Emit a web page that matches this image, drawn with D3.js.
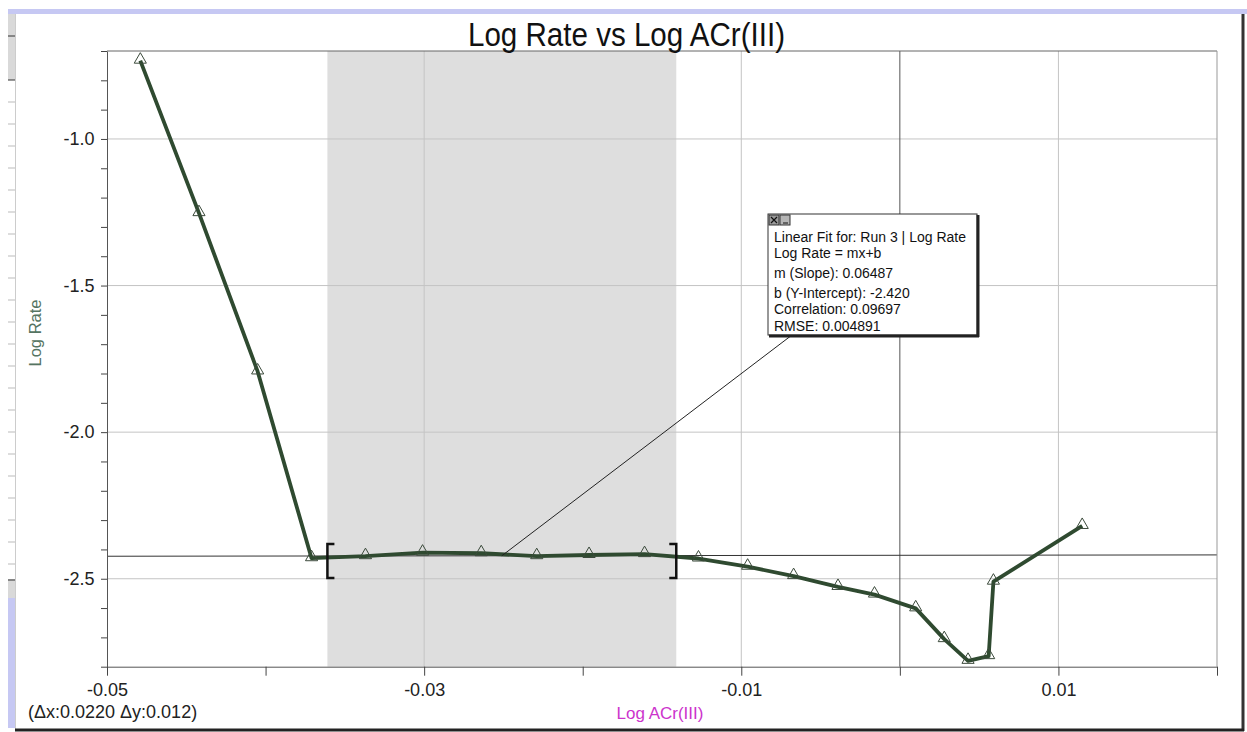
<!DOCTYPE html>
<html>
<head>
<meta charset="utf-8">
<script src="https://cdn.jsdelivr.net/npm/d3@7"></script>
<style>
  body { margin: 0; background: #fff; }
  svg text { font-family: "Liberation Sans", Arial, sans-serif; }
</style>
</head>
<body>
<div id="chart"></div>
<script>
// Run 3 data
var logACr = [-0.0479, -0.0442, -0.0405, -0.0371, -0.0337, -0.0301, -0.0264, -0.0229,
  -0.0196, -0.0161, -0.0127, -0.0096, -0.0067, -0.0039, -0.0016, 0.0010,
  0.0028, 0.0043, 0.0056, 0.0059, 0.0115];
var logRate = [-0.733, -1.253, -1.793, -2.430, -2.423, -2.411, -2.413, -2.423,
  -2.419, -2.416, -2.431, -2.459, -2.491, -2.528, -2.554, -2.601,
  -2.706, -2.780, -2.764, -2.510, -2.320];

// Axis settings
var xDomain = [-0.05, 0.02];
var yDomain = [-2.8, -0.7];
var xLabelTicks = [-0.05, -0.03, -0.01, 0.01];
var yLabelTicks = [-1.0, -1.5, -2.0, -2.5];

// Linear fit and selected range
var fitSlope = 0.06487;
var fitIntercept = -2.420;
var selectRange = [-0.0361, -0.0141];
var fitText = ["Linear Fit for: Run 3 | Log Rate", "Log Rate = mx+b", "m (Slope): 0.06487",
  "b (Y-Intercept): -2.420", "Correlation: 0.09697", "RMSE: 0.004891"];
var deltaText = "(\u0394x:0.0220 \u0394y:0.012)";

var width = 1247;
var height = 732;
var margin = { top: 51, right: 30, bottom: 65.3, left: 107 };

// Plain hyphen for negative numbers, like the original
var locale = d3.formatLocale({ decimal: ".", thousands: ",", grouping: [3], currency: ["", ""], minus: "-" });

var svg = d3.select("#chart")
  .append("svg")
  .attr("width", width)
  .attr("height", height);

// Window chrome around the graph
svg.append("rect").attr("x", 8).attr("y", 9).attr("width", width - 8).attr("height", 5).attr("fill", "#c6c8f3");
svg.append("rect").attr("x", 8).attr("y", 14).attr("width", 7).attr("height", 66).attr("fill", "#d9d9d9");
svg.append("rect").attr("x", 8).attr("y", 579).attr("width", 7).attr("height", 19).attr("fill", "#d9d9d9");
svg.append("rect").attr("x", 8).attr("y", 598).attr("width", 7).attr("height", 130).attr("fill", "#c6c8f3");
svg.selectAll(".sidetick")
  .data(d3.range(102, 570, 22))
  .enter()
  .append("line")
  .attr("x1", 8).attr("x2", 15)
  .attr("y1", function(d) { return d; }).attr("y2", function(d) { return d; })
  .attr("stroke", "#bbb");
[36, 80, 580].forEach(function(yy) {
  svg.append("line").attr("x1", 8).attr("x2", 15).attr("y1", yy).attr("y2", yy).attr("stroke", "#333");
});
svg.append("line").attr("x1", 15.5).attr("x2", 15.5).attr("y1", 14).attr("y2", 729).attr("stroke", "#ccc");
svg.append("line").attr("x1", 1243).attr("x2", 1243).attr("y1", 14).attr("y2", 731).attr("stroke", "#333").attr("stroke-width", 3);
svg.append("line").attr("x1", 15).attr("x2", 1244).attr("y1", 730).attr("y2", 730).attr("stroke", "#222").attr("stroke-width", 3);

var plotW = width - margin.left - margin.right;
var plotH = height - margin.top - margin.bottom;

var x = d3.scaleLinear().domain(xDomain).range([margin.left, margin.left + plotW]);
var y = d3.scaleLinear().domain(yDomain).range([margin.top + plotH, margin.top]);

// Shaded selection
svg.append("rect")
  .attr("x", x(selectRange[0]))
  .attr("y", margin.top)
  .attr("width", x(selectRange[1]) - x(selectRange[0]))
  .attr("height", plotH)
  .attr("fill", "#dedede");

// Grid lines
svg.selectAll(".vgrid")
  .data(xLabelTicks.slice(1))
  .enter()
  .append("line")
  .attr("x1", function(d) { return x(d); }).attr("x2", function(d) { return x(d); })
  .attr("y1", margin.top).attr("y2", margin.top + plotH)
  .attr("stroke", "#c4c4c4");
svg.selectAll(".hgrid")
  .data(yLabelTicks)
  .enter()
  .append("line")
  .attr("x1", margin.left).attr("x2", margin.left + plotW)
  .attr("y1", function(d) { return y(d); }).attr("y2", function(d) { return y(d); })
  .attr("stroke", "#c4c4c4");

// Zero line
svg.append("line")
  .attr("x1", x(0)).attr("x2", x(0))
  .attr("y1", margin.top).attr("y2", margin.top + plotH)
  .attr("stroke", "#555");

// Fit line across the graph
svg.append("line")
  .attr("x1", x(xDomain[0])).attr("x2", x(xDomain[1]))
  .attr("y1", y(fitSlope * xDomain[0] + fitIntercept))
  .attr("y2", y(fitSlope * xDomain[1] + fitIntercept))
  .attr("stroke", "#333");

// Plot frame
svg.append("line").attr("x1", margin.left).attr("x2", margin.left + plotW)
  .attr("y1", margin.top).attr("y2", margin.top).attr("stroke", "#666");
svg.append("line").attr("x1", margin.left + plotW).attr("x2", margin.left + plotW)
  .attr("y1", margin.top).attr("y2", margin.top + plotH).attr("stroke", "#999");

// Axes
var xTickVals = d3.range(-5, 3).map(function(k) { return k / 100; });
var xAxis = d3.axisBottom(x)
  .tickValues(xTickVals)
  .tickSizeInner(9)
  .tickSizeOuter(0)
  .tickPadding(7.5)
  .tickFormat(function(d) {
    return Math.abs(Math.round(d * 100)) % 2 === 1 ? locale.format(".2f")(d) : "";
  });
var yTickVals = d3.range(-28, -6).map(function(k) { return k / 10; });
var yAxis = d3.axisLeft(y)
  .tickValues(yTickVals)
  .tickSizeInner(6)
  .tickSizeOuter(0)
  .tickPadding(6.5)
  .tickFormat(function(d) {
    return Math.round(d * 10) % 5 === 0 ? locale.format(".1f")(d) : "";
  });

var gx = svg.append("g")
  .attr("transform", "translate(0," + (margin.top + plotH) + ")")
  .call(xAxis);
var gy = svg.append("g")
  .attr("transform", "translate(" + margin.left + ",0)")
  .call(yAxis);
[gx, gy].forEach(function(g) {
  g.selectAll("path").attr("stroke", "#555");
  g.selectAll("line").attr("stroke", "#444");
  g.selectAll("text")
    .attr("fill", "#222")
    .style("font-size", "18px")
    .style("font-family", "'Liberation Sans', Arial, sans-serif");
});

// Data line and triangle markers
var line = d3.line()
  .x(function(d, i) { return x(logACr[i]); })
  .y(function(d) { return y(d); });
svg.append("path")
  .datum(logRate)
  .attr("d", line)
  .attr("fill", "none")
  .attr("stroke", "#2f4a30")
  .attr("stroke-width", 3.8)
  .attr("stroke-linejoin", "round");

svg.selectAll(".pt")
  .data(logRate)
  .enter()
  .append("path")
  .attr("d", d3.symbol(d3.symbolTriangle, 64))
  .attr("transform", function(d, i) { return "translate(" + x(logACr[i]) + "," + (y(d) - 1) + ")"; })
  .attr("fill", "none")
  .attr("stroke", "#3b4a3b")
  .attr("stroke-width", 1);

// Brackets at the ends of the selection
var bracketMid = y(fitSlope * selectRange[0] + fitIntercept) + 5;
selectRange.forEach(function(v, i) {
  var bx = x(v);
  var dir = i === 0 ? 1 : -1;
  svg.append("path")
    .attr("d", "M" + (bx + dir * 7) + "," + (bracketMid - 17) + "H" + bx + "V" + (bracketMid + 17) + "H" + (bx + dir * 7))
    .attr("fill", "none")
    .attr("stroke", "#111")
    .attr("stroke-width", 2.5);
});

// Leader from fit box to middle of selection
var midX = (selectRange[0] + selectRange[1]) / 2;
svg.append("line")
  .attr("x1", 792).attr("y1", 335)
  .attr("x2", x(midX)).attr("y2", y(fitSlope * midX + fitIntercept))
  .attr("stroke", "#222");

// Fit info box
var box = svg.append("g").attr("transform", "translate(768,214)");
box.append("rect").attr("x", 0).attr("y", 0).attr("width", 209).attr("height", 121)
  .attr("fill", "#fff").attr("stroke", "#333");
box.append("line").attr("x1", 210).attr("x2", 210).attr("y1", 1).attr("y2", 123).attr("stroke", "#222").attr("stroke-width", 3);
box.append("line").attr("x1", 1).attr("x2", 211).attr("y1", 122).attr("y2", 122).attr("stroke", "#222").attr("stroke-width", 3);
box.append("rect").attr("x", 1).attr("y", 1).attr("width", 10).attr("height", 10).attr("fill", "#9a9a9a").attr("stroke", "#333");
box.append("path").attr("d", "M3,3L9,9M9,3L3,9").attr("stroke", "#111").attr("stroke-width", 1.2);
box.append("rect").attr("x", 12).attr("y", 1).attr("width", 10).attr("height", 10).attr("fill", "#b5b5b5").attr("stroke", "#333");
box.append("line").attr("x1", 15).attr("x2", 20).attr("y1", 9).attr("y2", 9).attr("stroke", "#111");
var lineY = [27.8, 43.8, 63.7, 83.7, 100.4, 116.6];
box.selectAll(".fit")
  .data(fitText)
  .enter()
  .append("text")
  .attr("x", 6)
  .attr("y", function(d, i) { return lineY[i]; })
  .attr("fill", "#111")
  .style("font-size", "14px")
  .text(function(d) { return d; });

// Titles and labels
svg.append("text")
  .attr("x", 626.5)
  .attr("y", 46)
  .attr("text-anchor", "middle")
  .attr("textLength", 317)
  .attr("lengthAdjust", "spacingAndGlyphs")
  .attr("fill", "#111")
  .style("font-size", "33px")
  .text("Log Rate vs Log ACr(III)");

svg.append("text")
  .attr("transform", "translate(41,333) rotate(-90)")
  .attr("text-anchor", "middle")
  .attr("fill", "#557462")
  .style("font-size", "16.5px")
  .text("Log Rate");

svg.append("text")
  .attr("x", 660)
  .attr("y", 719)
  .attr("text-anchor", "middle")
  .attr("fill", "#cc33cc")
  .style("font-size", "17px")
  .text("Log ACr(III)");

svg.append("text")
  .attr("x", 28)
  .attr("y", 718)
  .attr("fill", "#222")
  .style("font-size", "18px")
  .text(deltaText);
</script>
</body>
</html>
